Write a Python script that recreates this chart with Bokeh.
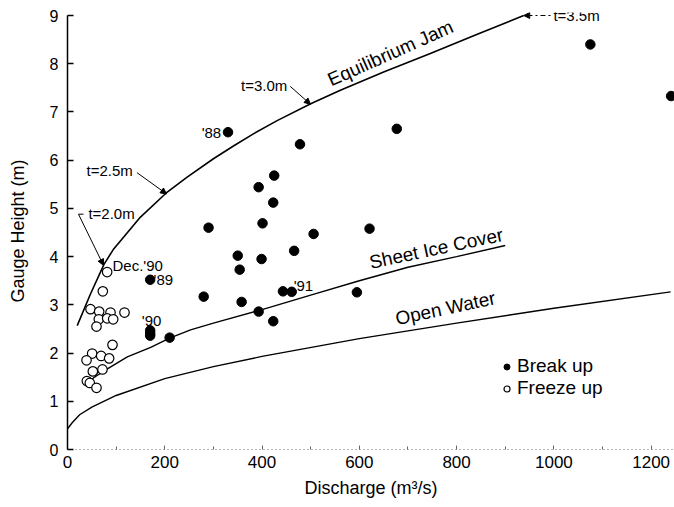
from bokeh.plotting import figure
from bokeh.models import (Range1d, FixedTicker, Label, Arrow, NormalHead,
                          Legend, LegendItem)
from bokeh.embed import file_html
from bokeh.resources import INLINE

# ---- data ----
break_q = [330, 478, 425, 393, 423, 401, 290, 506, 621, 466, 350, 399, 354, 280,
           358, 443, 461, 595, 393, 423, 170, 170, 170, 170, 210, 677, 1075, 1241]
break_h = [6.58, 6.33, 5.68, 5.44, 5.12, 4.69, 4.60, 4.47, 4.58, 4.12, 4.02, 3.95, 3.73, 3.17,
           3.06, 3.28, 3.27, 3.26, 2.86, 2.66, 3.52, 2.47, 2.41, 2.36, 2.32, 6.65, 8.40, 7.33]

freeze_q = [81.5, 72.6, 47.3, 65.1, 88.4, 117.2, 64.4, 81.6, 93.9, 59.6,
            92.5, 50.7, 39.1, 69.2, 85.6, 52.1, 71.9, 39.8, 45.9, 59.6]
freeze_h = [3.68, 3.28, 2.91, 2.86, 2.84, 2.84, 2.70, 2.72, 2.70, 2.55,
            2.17, 1.99, 1.85, 1.94, 1.89, 1.62, 1.66, 1.42, 1.38, 1.28]

open_q = [0, 10, 25, 50, 100, 200, 300, 400, 600, 800, 1000, 1240]
open_h = [0.43, 0.56, 0.72, 0.88, 1.12, 1.47, 1.72, 1.93, 2.30, 2.62, 2.93, 3.27]

sheet_q = [46, 60, 82, 123, 171, 210, 253, 300, 400, 500, 600, 700, 800, 900]
sheet_h = [1.43, 1.53, 1.67, 1.92, 2.12, 2.31, 2.48, 2.62, 2.90, 3.20, 3.50, 3.78, 4.00, 4.23]

jam_q = [20, 47, 75, 95, 150, 203, 246, 300, 342, 383, 431, 500, 561, 650, 746, 840, 938]
jam_h = [2.57, 3.22, 3.84, 4.16, 4.82, 5.32, 5.65, 6.03, 6.30, 6.55, 6.82, 7.17, 7.45, 7.83, 8.21, 8.60, 9.00]

x_ticks = [0, 200, 400, 600, 800, 1000, 1200]
x_minor = [100, 300, 500, 700, 900, 1100]
y_ticks = [0, 1, 2, 3, 4, 5, 6, 7, 8, 9]

FONT = "Liberation Sans"

p = figure(width=674, height=507, x_range=Range1d(0, 1248), y_range=Range1d(0, 9.0625),
           output_backend="svg", toolbar_location=None,
           min_border_left=67, min_border_right=0, min_border_top=12, min_border_bottom=58)
p.grid.visible = False
p.outline_line_color = None
p.background_fill_color = "white"
p.border_fill_color = "white"

# y axis
ya = p.yaxis[0]
ya.ticker = FixedTicker(ticks=y_ticks)
ya.bounds = (0, 9)
ya.axis_line_width = 1.5
ya.axis_line_color = "black"
ya.major_tick_in = 6
ya.major_tick_out = 0
ya.minor_tick_in = 0
ya.minor_tick_out = 0
ya.major_tick_line_width = 1.3
ya.major_label_text_font = FONT
ya.major_label_text_font_size = "16px"
ya.major_label_text_color = "black"
ya.major_label_standoff = 9
ya.axis_label = "Gauge Height (m)"
ya.axis_label_text_font = FONT
ya.axis_label_text_font_size = "18px"
ya.axis_label_text_font_style = "normal"
ya.axis_label_text_color = "black"
ya.axis_label_standoff = 19

# x axis
xa = p.xaxis[0]
xa.ticker = FixedTicker(ticks=x_ticks, minor_ticks=x_minor)
xa.axis_line_color = "#666666"
xa.axis_line_dash = "1 3"
xa.axis_line_width = 1
xa.major_tick_in = 4
xa.major_tick_out = 0
xa.minor_tick_in = 3
xa.minor_tick_out = 0
xa.major_tick_line_color = "#666666"
xa.minor_tick_line_color = "#666666"
xa.major_label_text_font = FONT
xa.major_label_text_font_size = "17px"
xa.major_label_text_color = "black"
xa.major_label_standoff = 6
xa.axis_label = "Discharge (m³/s)"
xa.axis_label_text_font = FONT
xa.axis_label_text_font_size = "18px"
xa.axis_label_text_font_style = "normal"
xa.axis_label_text_color = "black"
xa.axis_label_standoff = 7

# curves
p.line(open_q, open_h, line_color="black", line_width=1.4)
p.line(sheet_q, sheet_h, line_color="black", line_width=1.4)
p.line(jam_q, jam_h, line_color="black", line_width=1.6)

# points
r_break = p.scatter(break_q, break_h, marker="circle", size=9.5,
                    fill_color="black", line_color="black")
r_freeze = p.scatter(freeze_q, freeze_h, marker="circle", size=9.5,
                     fill_color="white", line_color="black", line_width=1.2)

legend = Legend(items=[LegendItem(label="Break up", renderers=[r_break]),
                       LegendItem(label="Freeze up", renderers=[r_freeze])],
                location=(432, 50), glyph_width=15, glyph_height=15, label_height=20,
                label_standoff=3, padding=0, margin=0, spacing=0,
                border_line_color=None, background_fill_alpha=0,
                label_text_font=FONT, label_text_font_size="19px", label_text_color="black")
p.add_layout(legend)

def lab(x, y, text, size="15px", align="left", angle=0):
    p.add_layout(Label(x=x, y=y, text=text, text_font=FONT, text_font_size=size,
                       text_align=align, text_baseline="middle", text_color="black",
                       angle=angle, angle_units="deg"))

lab(664, 8.22, "Equilibrium Jam", "19px", "center", 24)
lab(758, 4.17, "Sheet Ice Cover", "19px", "center", 12)
lab(777, 2.93, "Open Water", "19px", "center", 12)

lab(452, 7.55, "t=3.0m", "15px", "right")
lab(39, 5.79, "t=2.5m", "15px", "left")
lab(43, 4.90, "t=2.0m", "15px", "left")
lab(999, 8.99, "t=3.5m", "15px", "left")
lab(92.5, 3.82, "Dec.'90", "15px", "left")
lab(177, 3.52, "'89", "15px", "left")
lab(173, 2.68, "'90", "15px", "center")
lab(465, 3.40, "'91", "15px", "left")
lab(316, 6.58, "'88", "15px", "right")

def arrow(x0, y0, x1, y1, head=True, dash="solid"):
    p.add_layout(Arrow(x_start=x0, y_start=y0, x_end=x1, y_end=y1,
                       end=NormalHead(size=6, fill_color="black", line_color="black") if head else None,
                       line_color="black", line_width=1, line_dash=dash))

arrow(32.9, 4.88, 22.6, 4.88, head=False)
arrow(22.6, 4.88, 74, 3.82)
arrow(143, 5.74, 203.7, 5.30)
arrow(458, 7.53, 499.5, 7.16)
arrow(993, 9.0, 938, 9.0, dash="2 3 5 3")

open("out.html", "w").write(file_html(p, INLINE))
